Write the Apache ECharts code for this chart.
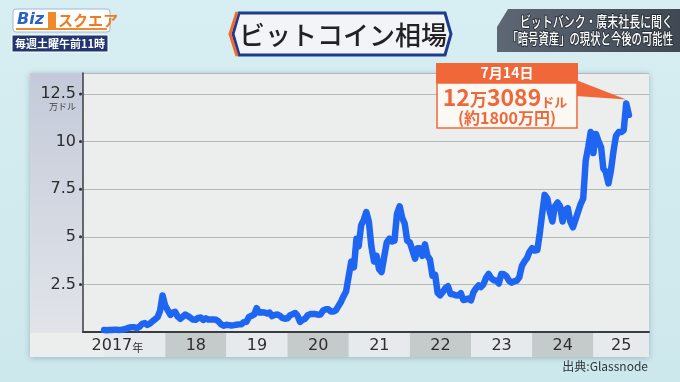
<!DOCTYPE html>
<html><head><meta charset="utf-8">
<script src="https://cdn.jsdelivr.net/npm/echarts@6/dist/echarts.min.js"></script>
<style>html,body{margin:0;padding:0;background:#d4ecef}#c{width:680px;height:382px}</style>
</head><body><div id="c"></div><script>
// Bitcoin price, unit: 万ドル (10,000 USD); two readings per month (1st and 16th)
const btc2017 = [0.10,0.09, 0.10,0.10, 0.12,0.12, 0.11,0.12, 0.14,0.18, 0.24,0.25, 0.25,0.20, 0.28,0.43, 0.47,0.37, 0.44,0.56, 0.66,0.78, 1.10,1.92];
const btc2018 = [1.38,1.15, 0.90,1.02, 1.06,0.82, 0.69,0.80, 0.92,0.84, 0.75,0.65, 0.64,0.74, 0.76,0.63, 0.72,0.65, 0.66,0.66, 0.64,0.55, 0.40,0.33];
const btc2019 = [0.38,0.36, 0.34,0.36, 0.38,0.40, 0.41,0.52, 0.54,0.79, 0.85,0.92, 1.25,1.02, 1.04,1.03, 0.97,1.02, 0.83,0.90, 0.92,0.86, 0.74,0.70];
const btc2020 = [0.72,0.87, 0.94,1.00, 0.86,0.53, 0.64,0.70, 0.88,0.94, 0.95,0.94, 0.91,0.92, 1.13,1.19, 1.19,1.08, 1.08,1.14, 1.37,1.59, 1.88,2.13];
const btc2021 = [2.94,3.70, 3.40,4.90, 4.50,5.60, 5.90,6.30, 5.80,4.50, 3.70,4.00, 3.30,3.15, 3.97,4.70, 4.90,4.75, 4.80,6.20, 6.60,6.00, 5.70,4.80];
const btc2022 = [4.70,4.30, 3.85,4.40, 4.40,4.00, 4.60,4.00, 3.80,2.95, 3.00,2.05, 1.93,2.10, 2.30,2.40, 2.00,1.98, 1.93,1.92, 2.04,1.68, 1.70,1.76];
const btc2023 = [1.66,2.10, 2.30,2.45, 2.36,2.50, 2.85,3.05, 2.84,2.72, 2.70,2.55, 3.05,3.03, 2.92,2.70, 2.59,2.66, 2.70,2.86, 3.47,3.70, 3.87,4.20];
const btc2024 = [4.40,4.28, 4.30,5.20, 6.20,7.20, 7.00,6.30, 5.80,6.60, 6.80,6.60, 5.80,6.40, 6.50,5.80, 5.50,5.90, 6.30,6.70, 7.00,9.00, 9.70,10.50];
const btc2025 = [9.40,10.40, 10.00,9.70, 8.60,8.40, 7.80,8.50, 9.50,10.30, 10.50,10.50, 10.60,12.00, 11.40];
const yearLabels = ['2017年','18','19','20','21','22','23','24','25'];
const yTicks = [2.5, 5, 7.5, 10, 12.5];

const pad = n => (n < 10 ? '0' : '') + n;
function halfMonthly(year, vals) {
  return vals.map((v, i) => [year + '-' + pad(Math.floor(i / 2) + 1) + '-' + (i % 2 ? '16' : '01'), v]);
}
const series = [].concat(
  halfMonthly(2017, btc2017), halfMonthly(2018, btc2018), halfMonthly(2019, btc2019),
  halfMonthly(2020, btc2020), halfMonthly(2021, btc2021), halfMonthly(2022, btc2022),
  halfMonthly(2023, btc2023), halfMonthly(2024, btc2024), halfMonthly(2025, btc2025));
const peakIndex = series.reduce((b, d, i, a) => d[1] > a[b][1] ? i : b, 0);
const cells = yearLabels.map((l, i) => [(2017 + i) + '-01-01', (2018 + i) + '-01-01', i]);

const tp = s => echarts.time.parse(s).getTime();
const xMax = tp('2025-11-29');
const chart = echarts.init(document.getElementById('c'), null, {renderer: 'canvas'});
const ORANGE = '#f0683a';
const JP = '"Noto Sans CJK JP", sans-serif';

chart.setOption({
  animation: false,
  backgroundColor: {type: 'linear', x: 0, y: 0, x2: 0, y2: 1, colorStops: [{offset: 0, color: '#d7eef2'}, {offset: 1, color: '#cde8ec'}]},
  grid: [
    {left: 83, right: 31, top: 73, bottom: 50, show: true, backgroundColor: '#eceeee', borderWidth: 0},
    {left: 30, right: 31, top: 333, height: 24}
  ],
  xAxis: [
    {type: 'time', gridIndex: 0, min: tp('2016-08-28'), max: xMax,
     axisLine: {show: true, lineStyle: {color: '#3a3d40', width: 2}},
     axisTick: {show: false}, axisLabel: {show: false}, splitLine: {show: false}},
    {type: 'time', gridIndex: 1, min: tp('2015-10-16'), max: xMax, show: false}
  ],
  yAxis: [
    {type: 'value', gridIndex: 0, min: 0, max: 13.6, interval: 2.5,
     axisLine: {show: true, lineStyle: {color: '#3a3d40', width: 1.5}},
     axisTick: {show: false},
     splitLine: {show: true, lineStyle: {color: '#b4b8b9', width: 1}},
     axisLabel: {margin: 1, color: '#2c2c2c',
       formatter: v => yTicks.indexOf(v) >= 0 ? '{v|' + v + '}{g|}{d|}' : '',
       rich: {
         v: {fontFamily: 'DejaVu Sans', fontSize: 16, color: '#2c2c2c', verticalAlign: 'middle'},
         g: {width: 3},
         d: {width: 3, height: 3, borderRadius: 1.5, backgroundColor: '#333', verticalAlign: 'middle'}
       }}},
    {type: 'value', gridIndex: 1, min: 0, max: 1, show: false}
  ],
  series: [
    {type: 'custom', xAxisIndex: 1, yAxisIndex: 1, z: 1,
     dimensions: [{name: 's', type: 'time'}, {name: 'e', type: 'time'}, {name: 'i', type: 'number'}],
     encode: {x: [0, 1], y: 2},
     data: cells,
     renderItem: function (params, api) {
       const cs = params.coordSys;
       let x0 = api.coord([api.value(0), 0])[0];
       let x1 = api.coord([api.value(1), 0])[0];
       x0 = Math.max(x0, cs.x); x1 = Math.min(x1, cs.x + cs.width);
       const i = api.value(2);
       const first = i === 0;
       return {type: 'group', children: [
         {type: 'rect', shape: {x: x0, y: cs.y, width: x1 - x0, height: cs.height},
          style: {fill: i % 2 ? '#c5cacb' : '#e7eaec'}},
         {type: 'text', style: {
            text: first ? '{a|2017}{b|年}' : yearLabels[i],
            x: first ? x1 - 22 : (x0 + x1) / 2, y: cs.y + cs.height / 2 + 1,
            align: first ? 'right' : 'center', verticalAlign: 'middle',
            fill: '#2e2e2e', font: '16px "DejaVu Sans"',
            rich: {a: {fontFamily: 'DejaVu Sans', fontSize: 16, fill: '#2e2e2e'},
                   b: {fontFamily: JP, fontSize: 11, fill: '#2e2e2e', padding: [3, 0, 0, 0]}}}}
       ]};
     }},
    {type: 'line', xAxisIndex: 0, yAxisIndex: 0, data: series, showSymbol: false, z: 3,
     lineStyle: {color: '#1e66f2', width: 6.5, join: 'round', cap: 'round'}}
  ],
  graphic: [
    {type: 'rect', z: -10, shape: {x: 30, y: 73, width: 619, height: 284},
     style: {fill: '#eceeee', shadowBlur: 6, shadowColor: 'rgba(0,40,60,0.25)', shadowOffsetY: 1}},
    {type: 'rect', z: -9, shape: {x: 30, y: 73, width: 53, height: 260},
     style: {fill: {type: 'linear', x: 0, y: 0, x2: 0, y2: 1, colorStops: [{offset: 0, color: '#c4cad9'}, {offset: 1, color: '#e1e4e9'}]}}},
    {type: 'text', z: 5, style: {text: '万ドル', x: 76, y: 107, align: 'right', verticalAlign: 'middle', fill: '#444', font: '9px ' + JP}},
    {type: 'text', z: 5, style: {text: '出典:Glassnode', x: 648, y: 366, align: 'right', verticalAlign: 'middle', fill: '#2e3438', font: '12px ' + JP}},
    // title
    {type: 'polygon', z: 5, shape: {points: [[239, 13], [445, 13], [451, 34], [445, 55], [239, 55], [233, 34]]},
     style: {fill: '#f2f4f8', stroke: '#1d3c8f', lineWidth: 3}},
    {type: 'polyline', z: 6, shape: {points: [[237, 12], [230, 34], [237, 56]]}, style: {stroke: '#f06a30', lineWidth: 3, fill: null}},
    {type: 'text', z: 7, style: {text: 'ビットコイン相場', x: 343, y: 35, align: 'center', verticalAlign: 'middle', fill: '#222', font: '500 26px ' + JP}},
    // logo
    {type: 'rect', z: 5, shape: {x: 13, y: 9, width: 97, height: 23, r: 3}, style: {fill: '#ffffff', stroke: '#9fb8d8', lineWidth: 1}},
    {type: 'text', z: 6, style: {text: 'Biz', x: 17, y: 20, verticalAlign: 'middle', fill: '#2b62c8', font: 'italic bold 16px "DejaVu Sans"'}},
    {type: 'rect', z: 6, shape: {x: 48, y: 12, width: 8, height: 17}, style: {fill: '#f08a28'}},
    {type: 'text', z: 6, style: {text: 'スクエア', x: 58, y: 20, verticalAlign: 'middle', fill: '#ef7a1f', font: 'bold 15px ' + JP}},
    {type: 'rect', z: 6, shape: {x: 16, y: 28, width: 91, height: 2}, style: {fill: '#f08a28'}},
    {type: 'rect', z: 5, shape: {x: 12, y: 35, width: 96, height: 17}, style: {fill: '#22356e', stroke: '#ffffff', lineWidth: 1}},
    {type: 'text', z: 6, style: {text: '毎週土曜午前11時', x: 60, y: 44, align: 'center', verticalAlign: 'middle', fill: '#fff', font: 'bold 11px ' + JP}},
    // right banner
    {type: 'polygon', z: 5, shape: {points: [[508, 9], [680, 9], [680, 52], [497, 52], [497, 27]]},
     style: {fill: {type: 'linear', x: 0, y: 0, x2: 1, y2: 0, colorStops: [{offset: 0, color: '#5d6874'}, {offset: 1, color: '#3f4853'}]}}},
    {type: 'text', z: 6, x: 673, y: 21, scaleX: 0.73, style: {text: 'ビットバンク・廣末社長に聞く', x: 0, y: 0, align: 'right', verticalAlign: 'middle', fill: '#fff', font: '500 15px ' + JP, stroke: '#2a3038', lineWidth: 2}},
    {type: 'text', z: 6, x: 673, y: 38, scaleX: 0.69, style: {text: '「暗号資産」の現状と今後の可能性', x: 0, y: 0, align: 'right', verticalAlign: 'middle', fill: '#fff', font: '500 15px ' + JP, stroke: '#2a3038', lineWidth: 2}},
    // annotation
    {type: 'rect', z: 20, shape: {x: 437, y: 83, width: 140, height: 45}, style: {fill: '#fcf8f4', stroke: ORANGE, lineWidth: 1.5}},
    {type: 'rect', z: 21, shape: {x: 436, y: 63, width: 142, height: 20}, style: {fill: ORANGE}},
    {type: 'text', z: 22, style: {text: '7月14日', x: 507, y: 73, align: 'center', verticalAlign: 'middle', fill: '#fff', font: 'bold 14px ' + JP}},
    {type: 'text', z: 22, style: {text: '{n|12}{u|万}{n|3089}{s|ドル}', x: 505, y: 96, align: 'center', verticalAlign: 'middle',
      rich: {n: {fontFamily: JP, fontWeight: 'bold', fontSize: 23, lineHeight: 25, fill: ORANGE, verticalAlign: 'bottom'},
             u: {fontFamily: JP, fontWeight: 'bold', fontSize: 17, lineHeight: 20, fill: ORANGE, verticalAlign: 'bottom'},
             s: {fontFamily: JP, fontWeight: 'bold', fontSize: 13, lineHeight: 17, fill: ORANGE, verticalAlign: 'bottom'}}}},
    {type: 'text', z: 22, style: {text: '(約1800万円)', x: 507, y: 118, align: 'center', verticalAlign: 'middle', fill: ORANGE, font: 'bold 16px ' + JP}}
  ]
});

const tip = chart.convertToPixel({xAxisIndex: 0, yAxisIndex: 0}, series[peakIndex]);
chart.setOption({graphic: [{id: 'callout', type: 'polygon', z: 19,
  shape: {points: [[576, 80], [576, 96], [tip[0], tip[1] - 4]]}, style: {fill: ORANGE}}]});
</script></body></html>
